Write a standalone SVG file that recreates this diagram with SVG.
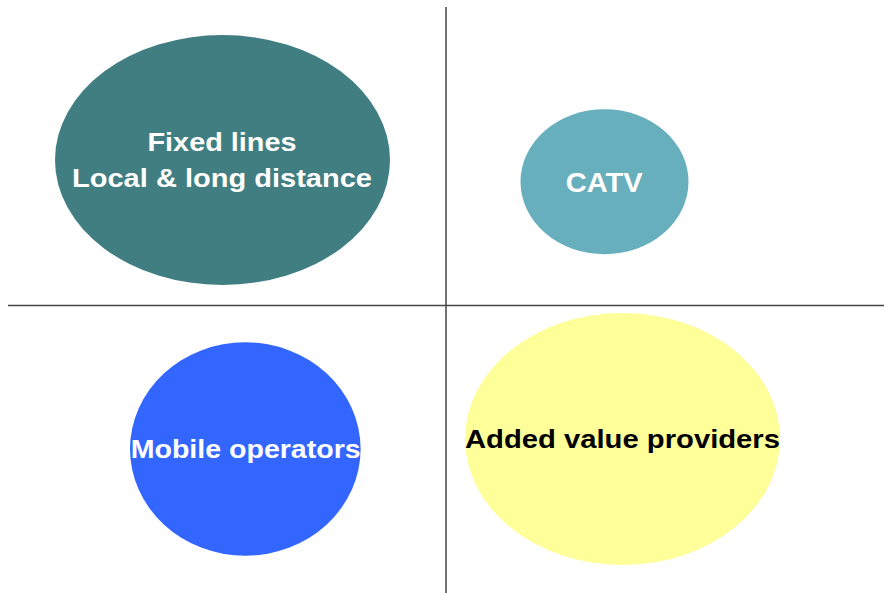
<svg xmlns="http://www.w3.org/2000/svg" width="884" height="593" viewBox="0 0 884 593">
<style>
.lbl{font-family:"Liberation Sans",Arial,sans-serif;font-weight:bold;font-size:25px;text-anchor:middle}
.w{fill:#ffffff}
.k{fill:#000000}
.ax{stroke:#444444;stroke-width:1.5;fill:none}
</style>
<rect width="884" height="593" fill="#ffffff"/>
<g id="connectors">
<line class="ax" x1="446" y1="7" x2="446" y2="593"/>
<line class="ax" x1="8" y1="305.5" x2="884" y2="305.5"/>
</g>
<g id="fixed">
<ellipse cx="222.5" cy="160" rx="167.5" ry="125" fill="#417E82"/>
<text class="lbl w" x="222" y="151" textLength="149" lengthAdjust="spacingAndGlyphs">Fixed lines</text>
<text class="lbl w" x="222" y="187" textLength="300" lengthAdjust="spacingAndGlyphs">Local &amp; long distance</text>
</g>
<g id="catv">
<ellipse cx="604.5" cy="181.7" rx="84" ry="72.5" fill="#67AFBC"/>
<text class="lbl w" x="604.2" y="192.3" style="font-size:27px" textLength="77" lengthAdjust="spacingAndGlyphs">CATV</text>
</g>
<g id="mobile">
<ellipse cx="245.3" cy="449" rx="115.3" ry="106.7" fill="#3366FF"/>
<text class="lbl w" x="245.7" y="458.3" textLength="230" lengthAdjust="spacingAndGlyphs">Mobile operators</text>
</g>
<g id="added">
<ellipse cx="622.5" cy="439" rx="157.5" ry="126" fill="#FFFF99"/>
<text class="lbl k" x="622.5" y="448.3" textLength="315" lengthAdjust="spacingAndGlyphs">Added value providers</text>
</g>
</svg>
